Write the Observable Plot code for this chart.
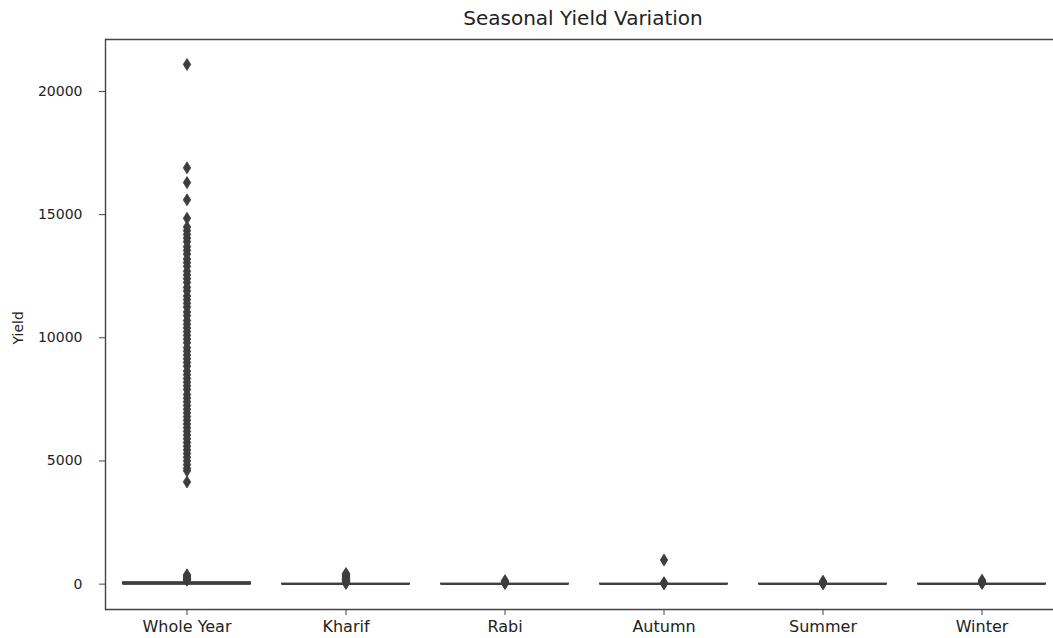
<!DOCTYPE html>
<html>
<head>
<meta charset="utf-8">
<script src="https://cdn.jsdelivr.net/npm/d3@7"></script>
<script src="https://cdn.jsdelivr.net/npm/@observablehq/plot@0.6"></script>
<style>
  html, body { margin: 0; padding: 0; background: #fff; overflow: hidden; }
  #title { height: 38px; width: 1053px; position: relative; font-family: "DejaVu Sans", sans-serif; }
  #title span { position: absolute; left: 583px; top: 18px; transform: translate(-50%, -50%); font-size: 20px; color: #222; white-space: nowrap; }
</style>
</head>
<body>
<div id="title"><span>Seasonal Yield Variation</span></div>
<div id="chart"></div>
<script>
const seasons = ["Whole Year", "Kharif", "Rabi", "Autumn", "Summer", "Winter"];
// box statistics per season (all compressed near zero at this scale)
const q1 = [2, 0.6, 0.4, 0.5, 0.5, 0.6];
const medians = [12, 1.1, 0.9, 1.0, 1.0, 1.2];
const q3 = [60, 2.5, 1.8, 2.2, 2.0, 2.6];
const whiskerLow = [0, 0, 0, 0, 0, 0];
const whiskerHigh = [140, 5.3, 3.9, 4.7, 4.3, 5.6];
// outliers
const outWholeYear = [21100, 16900, 16300, 15600, 14850,
  14500, 14350, 14200, 14050, 13900, 13700, 13550, 13400, 13200, 13050, 12900, 12700, 12550, 12400,
  12250, 12050, 11900, 11700, 11550, 11400, 11250, 11050, 10900, 10700, 10550, 10400, 10250, 10100,
  9950, 9800, 9600, 9450, 9300, 9150, 9000, 8850, 8650, 8500, 8350, 8200, 8050, 7900, 7700, 7550,
  7400, 7250, 7100, 6950, 6800, 6650, 6500, 6350, 6200, 6050, 5900, 5750, 5600, 5450, 5300, 5150,
  5000, 4850, 4700, 4600, 4150,
  380, 330, 290, 250, 210, 180, 160];
const outKharif = [430, 380, 330, 280, 230, 190, 150, 120, 90, 60, 30];
const outRabi = [140, 100, 70, 45, 25];
const outAutumn = [980, 60, 30, 15];
const outSummer = [120, 80, 50, 30, 15];
const outWinter = [160, 110, 80, 50, 30];
const yTicks = [0, 5000, 10000, 15000, 20000];
const yDomain = [-1030, 22110];

const boxes = seasons.map((s, i) => ({season: s, q1: q1[i], med: medians[i], q3: q3[i], lo: whiskerLow[i], hi: whiskerHigh[i]}));
const outlierLists = [outWholeYear, outKharif, outRabi, outAutumn, outSummer, outWinter];
const outliers = seasons.flatMap((s, i) => outlierLists[i].map(v => ({season: s, value: v})));
const palette = ["#3274a1", "#e1812c", "#3a923a", "#c03d3e", "#9372b2", "#845b53"];

const thinDiamond = {
  draw(context, size) {
    const r = Math.sqrt(size / Math.PI);
    const h = r, w = r * 0.62;
    context.moveTo(0, -h);
    context.lineTo(w, 0);
    context.lineTo(0, h);
    context.lineTo(-w, 0);
    context.closePath();
  }
};

const lineColor = "#3f3f3f";
const inset = 16;

const chart = Plot.plot({
  width: 1053,
  height: 600,
  marginTop: 1,
  marginLeft: 105,
  marginRight: 0,
  marginBottom: 29,
  style: {fontFamily: "DejaVu Sans, sans-serif", fontSize: "14px", color: "#222", background: "white"},
  x: {domain: seasons, range: [105, 1063], padding: 0, label: null},
  y: {domain: yDomain, label: null},
  marks: [
    Plot.ruleY([yDomain[1]], {stroke: "#444", strokeWidth: 1.4}),
    Plot.ruleY([yDomain[0]], {stroke: "#444", strokeWidth: 1.4}),
    Plot.frame({anchor: "left", stroke: "#444", strokeWidth: 1.4}),
    Plot.axisY(yTicks, {tickSize: 6, tickPadding: 17, tickFormat: d3.format("d"), fontSize: 14, stroke: "#444", label: null}),
    Plot.axisX({tickSize: 6, tickPadding: 5, fontSize: 16, stroke: "#444", label: null}),
    Plot.ruleX(boxes, {x: "season", y1: "lo", y2: "hi", stroke: lineColor, strokeWidth: 1.5}),
    Plot.barY(boxes, {x: "season", y1: "q1", y2: "q3", fill: (d, i) => palette[i], stroke: lineColor, strokeWidth: 2, insetLeft: inset, insetRight: inset}),
    Plot.tickY(boxes, {x: "season", y: "med", stroke: lineColor, strokeWidth: 2, insetLeft: inset, insetRight: inset}),
    Plot.dot(outliers, {x: "season", y: "value", symbol: thinDiamond, r: 6, fill: "#3d3d3d", stroke: "#3d3d3d", strokeWidth: 0.8}),
    Plot.text(["Yield"], {frameAnchor: "left", dx: -87, dy: 20, rotate: -90, fontSize: 14, fill: "#222"})
  ]
});
document.getElementById("chart").appendChild(chart);
</script>
</body>
</html>
